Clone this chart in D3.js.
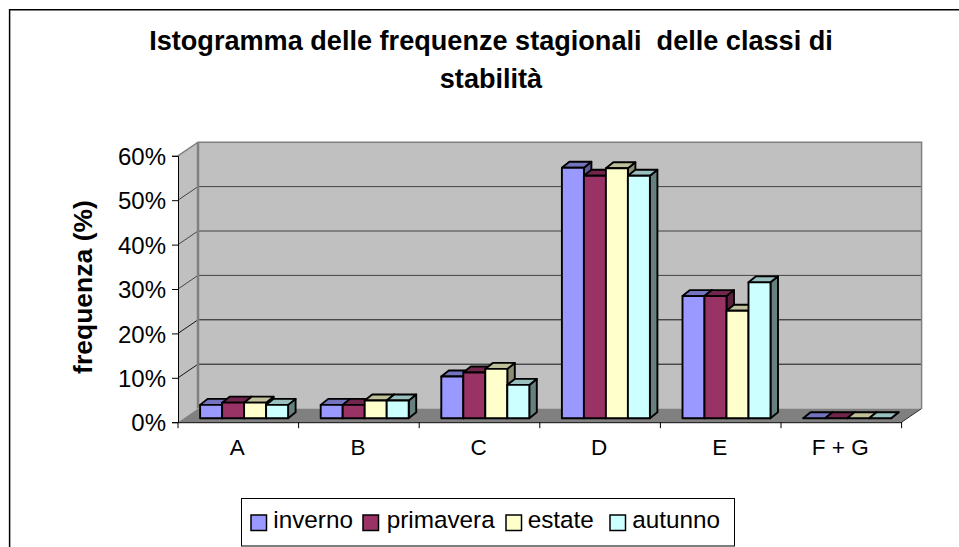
<!DOCTYPE html>
<html><head><meta charset="utf-8">
<script src="https://cdn.jsdelivr.net/npm/d3@7"></script>
<style>html,body{margin:0;padding:0;background:#fff}svg{display:block}text{font-family:"Liberation Sans",Arial,sans-serif;fill:#000}</style>
</head><body><svg id="c" width="959" height="547"></svg>
<script>
const categories=["A","B","C","D","E","F + G"];
const seriesNames=["inverno","primavera","estate","autunno"];
const inverno=[3.0,3.0,9.4,56.4,27.5,0];
const primavera=[3.5,3.0,10.3,54.6,27.5,0];
const estate=[3.5,4.0,11.1,56.3,24.2,0];
const autunno=[3.0,4.0,7.5,54.6,30.6,0];
const seriesValues=[inverno,primavera,estate,autunno];
const frontColors=["#9999ff","#993366","#ffffcc","#ccffff"];
const topColors=["#7373bf","#73264d","#bfbf99","#99bfbf"];
const sideColors=["#5c5c99","#5c1f3d","#8c8c70","#668080"];
const yTicks=[0,10,20,30,40,50,60];

const svg=d3.select("#c");
const x0=178,x1=901.6,yb=422.2,yt=155.8,wx=20,wy=-13.6;
const x=d3.scaleBand().domain(categories).range([x0,x1]);
const y=d3.scaleLinear().domain([0,60]).range([yb,yt]);
const poly=(pts,fill,stroke,sw)=>svg.append("polygon").attr("points",pts.map(p=>p.join(",")).join(" ")).attr("fill",fill).attr("stroke",stroke||"none").attr("stroke-width",sw||0).attr("stroke-linejoin","round");

// outer frame (left and top edges only; the picture is cropped on the other sides)
svg.append("path").attr("d","M9.6,547V9.8H959").attr("fill","none").attr("stroke","#000").attr("stroke-width",1.5);
// walls
poly([[x0+wx,yt+wy],[x1+wx,yt+wy],[x1+wx,yb+wy],[x0+wx,yb+wy]],"#c0c0c0");
poly([[x0,yt],[x0+wx,yt+wy],[x0+wx,yb+wy],[x0,yb]],"#c0c0c0");
poly([[x0,yb],[x0+wx,yb+wy],[x1+wx,yb+wy],[x1,yb]],"#808080");
// gridlines
yTicks.slice(1,6).forEach(t=>{
  svg.append("path").attr("d",`M${x0},${y(t)}L${x0+wx},${y(t)+wy}H${x1+wx}`).attr("fill","none").attr("stroke","#000").attr("stroke-width",1).attr("stroke-opacity",t>=30?0.65:0.9);
});
// wall edges
svg.append("path").attr("d",`M${x0},${yt}L${x0+wx},${yt+wy}H${x1+wx}V${yb+wy}`).attr("fill","none").attr("stroke","#808080").attr("stroke-width",1.5);
svg.append("path").attr("d",`M${x0+wx},${yt+wy}V${yb+wy}`).attr("fill","none").attr("stroke","#808080").attr("stroke-width",2.5);
svg.append("path").attr("d",`M${x1},${yb}L${x1+wx},${yb+wy}`).attr("fill","none").attr("stroke","#333");
// axes
const axL=d3.axisLeft(y).tickValues(yTicks).tickFormat(d=>d+"%").tickSize(6).tickPadding(6);
const gL=svg.append("g").attr("transform",`translate(${x0},0)`).call(axL);
gL.selectAll("text").attr("font-size",24).attr("dy","0.36em");
const axB=d3.axisBottom(x).tickSize(0).tickPadding(17);
const gB=svg.append("g").attr("transform",`translate(-1,${yb})`).call(axB);
gB.select(".domain").attr("transform","translate(1,0)");
gB.selectAll("text").attr("font-size",22.5).attr("dy","0.71em");
const edges=categories.map(c=>x(c)).concat([x1]);
svg.append("g").selectAll("line").data(edges).join("line").attr("x1",d=>d).attr("x2",d=>d).attr("y1",yb).attr("y2",yb+6).attr("stroke","#000");
svg.selectAll(".domain").attr("stroke","#000");
// bars
const bw=22,dx=7.5,dy=-6,base=-4,off=5.8;
const s=d3.scaleBand().domain(d3.range(4)).range([0,bw*4]);
categories.forEach((c,ci)=>{
  const start=x(c)+(x.bandwidth()-bw*4)/2+off;
  seriesValues.forEach((vals,si)=>{
    const l=start+s(si),r=l+bw,b=yb+base,t=y(vals[ci])+base;
    const g="#000";
    poly([[r,t],[r+dx,t+dy],[r+dx,b+dy],[r,b]],sideColors[si],g,1.9);
    poly([[l,t],[l+dx,t+dy],[r+dx,t+dy],[r,t]],topColors[si],g,1.9);
    if(vals[ci]>0) poly([[l,t],[r,t],[r,b],[l,b]],frontColors[si],g,1.9);
  });
});
// title
const title=svg.append("text").attr("text-anchor","middle").attr("font-weight","bold").attr("font-size",27.1);
title.append("tspan").attr("x",491).attr("y",50).attr("xml:space","preserve").text("Istogramma delle frequenze stagionali  delle classi di");
title.append("tspan").attr("x",491).attr("y",88).text("stabilità");
svg.append("text").attr("transform","translate(92,287) rotate(-90)").attr("text-anchor","middle").attr("font-weight","bold").attr("font-size",26.5).text("frequenza (%)");
// legend
svg.append("rect").attr("x",241.5).attr("y",498.5).attr("width",493).attr("height",47.5).attr("fill","#fff").attr("stroke","#000");
const lx=[251,363,506,610],tx=[273.3,386.7,527.7,632.3];
seriesNames.forEach((n,i)=>{
  svg.append("rect").attr("x",lx[i]).attr("y",515).attr("width",15.5).attr("height",15.5).attr("fill",frontColors[i]).attr("stroke","#000").attr("stroke-width",1.5);
  svg.append("text").attr("x",tx[i]).attr("y",527.7).attr("font-size",24.3).text(n);
});
</script></body></html>
